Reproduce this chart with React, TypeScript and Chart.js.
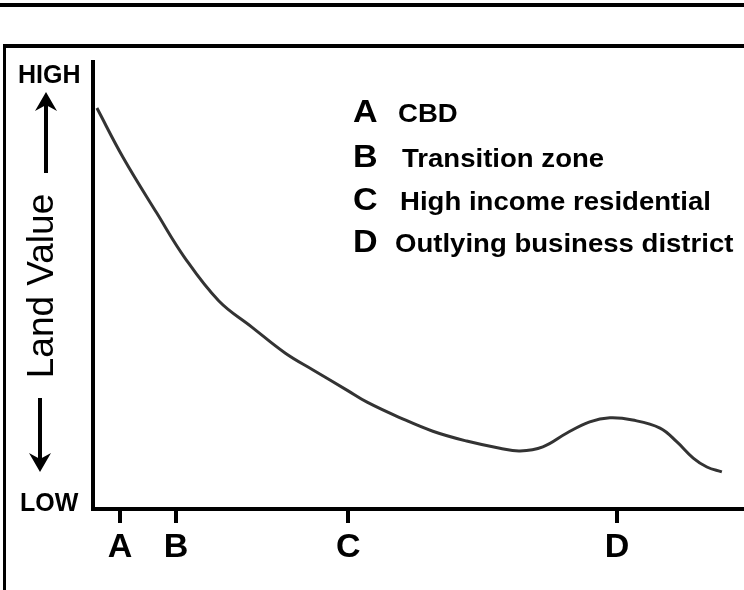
import React, { useEffect, useRef } from "react";
import { Chart, registerables } from "chart.js";

Chart.register(...registerables);

// Distance from centre (arbitrary units 0..100) and relative land value (0..100)
const distance = [0.6, 4.6, 9.8, 14.1, 19.3, 24.4, 29.5, 33.8, 39.0, 42.1, 47.2, 52.2, 57.4, 62.5, 65.6, 69.1, 72.8, 76.3, 79.4, 82.9, 87.1, 89.7, 92.2, 94.3, 96.6];
const landValue = [89.7, 78.7, 66.2, 56.2, 46.6, 40.7, 34.9, 31.1, 26.6, 23.9, 20.4, 17.4, 15.2, 13.6, 13.0, 13.9, 17.0, 19.5, 20.4, 19.9, 18.1, 15.0, 11.4, 9.4, 8.3];

const xTickValues = [4.15, 12.75, 39.2, 80.5];
const xTickLabels = ["A", "B", "C", "D"];

const legendKeys = ["A", "B", "C", "D"];
const legendLabels = ["CBD", "Transition zone", "High income residential", "Outlying business district"];

const yTopLabel = "HIGH";
const yBottomLabel = "LOW";
const yTitle = "Land Value";

const FONT = "'Liberation Sans', Arial, sans-serif";

const framePlugin = {
  id: "frame",
  beforeDraw(chart: any) {
    const ctx = chart.ctx;
    ctx.save();
    ctx.fillStyle = "#fff";
    ctx.fillRect(0, 0, chart.width, chart.height);
    ctx.fillStyle = "#000";
    ctx.fillRect(0, 3, chart.width, 4);
    ctx.fillRect(3, 44, chart.width, 4);
    ctx.fillRect(3, 44, 3, chart.height);
    ctx.restore();
  },
  afterDraw(chart: any) {
    const ctx = chart.ctx;
    ctx.save();
    ctx.fillStyle = "#000";
    ctx.strokeStyle = "#000";
    // HIGH / LOW
    ctx.font = `bold 25px ${FONT}`;
    ctx.textBaseline = "alphabetic";
    ctx.textAlign = "left";
    ctx.fillText(yTopLabel, 18, 83);
    ctx.fillText(yBottomLabel, 20, 511);

    // arrows
    const drawArrow = (cx: number, tipY: number, tailY: number) => {
      const dir = tailY > tipY ? 1 : -1;
      ctx.lineWidth = 4;
      ctx.beginPath();
      ctx.moveTo(cx, tipY + dir * 10);
      ctx.lineTo(cx, tailY);
      ctx.stroke();
      ctx.beginPath();
      ctx.moveTo(cx, tipY);
      ctx.lineTo(cx + 11, tipY + dir * 19);
      ctx.lineTo(cx, tipY + dir * 13);
      ctx.lineTo(cx - 11, tipY + dir * 19);
      ctx.closePath();
      ctx.fill();
    };
    drawArrow(46, 92, 173);
    drawArrow(40, 472, 398);

    // Land Value
    ctx.save();
    ctx.translate(53, 286);
    ctx.rotate(-Math.PI / 2);
    ctx.font = `37px ${FONT}`;
    ctx.textAlign = "center";
    ctx.textBaseline = "alphabetic";
    ctx.fillText(yTitle, 0, 0);
    ctx.restore();

    // legend
    const baselines = [122, 167, 210, 252];
    const textX = [398, 402, 400, 395];
    legendKeys.forEach((k, i) => {
      ctx.save();
      ctx.translate(353, baselines[i]);
      ctx.scale(1.1, 1);
      ctx.font = `bold 31px ${FONT}`;
      ctx.textAlign = "left";
      ctx.fillText(k, 0, 0);
      ctx.restore();
      ctx.save();
      ctx.translate(textX[i], baselines[i]);
      ctx.scale(1.06, 1);
      ctx.font = `bold 26px ${FONT}`;
      ctx.textAlign = "left";
      ctx.fillText(legendLabels[i], 0, 0);
      ctx.restore();
    });
    ctx.restore();
  },
};

export default function App() {
  const ref = useRef<HTMLCanvasElement | null>(null);
  useEffect(() => {
    if (!ref.current) return;
    const chart = new Chart(ref.current, {
      type: "line",
      data: {
        datasets: [
          {
            data: distance.map((x, i) => ({ x, y: landValue[i] })),
            borderColor: "#333",
            borderWidth: 3,
            pointRadius: 0,
            tension: 0.4,
            fill: false,
          },
        ],
      },
      options: {
        animation: false,
        responsive: false,
        events: [],
        layout: { padding: { left: 93, top: 62, right: 0, bottom: 0 } },
        plugins: { legend: { display: false }, tooltip: { enabled: false } },
        scales: {
          x: {
            type: "linear",
            min: 0,
            max: 100,
            afterBuildTicks: (s: any) => {
              s.ticks = xTickValues.map((v) => ({ value: v }));
            },
            afterFit: (s: any) => {
              s.height = 81;
            },
            grid: { drawOnChartArea: false, drawTicks: true, tickLength: 14, color: "#000", lineWidth: 4 },
            border: { display: true, color: "#000", width: 4 },
            ticks: {
              autoSkip: false,
              maxRotation: 0,
              padding: 4,
              color: "#000",
              font: { family: FONT, size: 34, weight: "bold" },
              callback: (_v: any, i: number) => xTickLabels[i],
            },
          },
          y: {
            type: "linear",
            min: 0,
            max: 100,
            afterFit: (s: any) => {
              s.width = 0;
            },
            grid: { display: false },
            ticks: { display: false },
            border: { display: true, color: "#000", width: 4 },
          },
        },
      },
      plugins: [framePlugin],
    } as any);
    return () => chart.destroy();
  }, []);
  return (
    <div style={{ position: "fixed", left: 0, top: 0, width: 744, height: 590, background: "#fff" }}>
      <canvas ref={ref} width={744} height={590} style={{ display: "block" }} />
    </div>
  );
}
